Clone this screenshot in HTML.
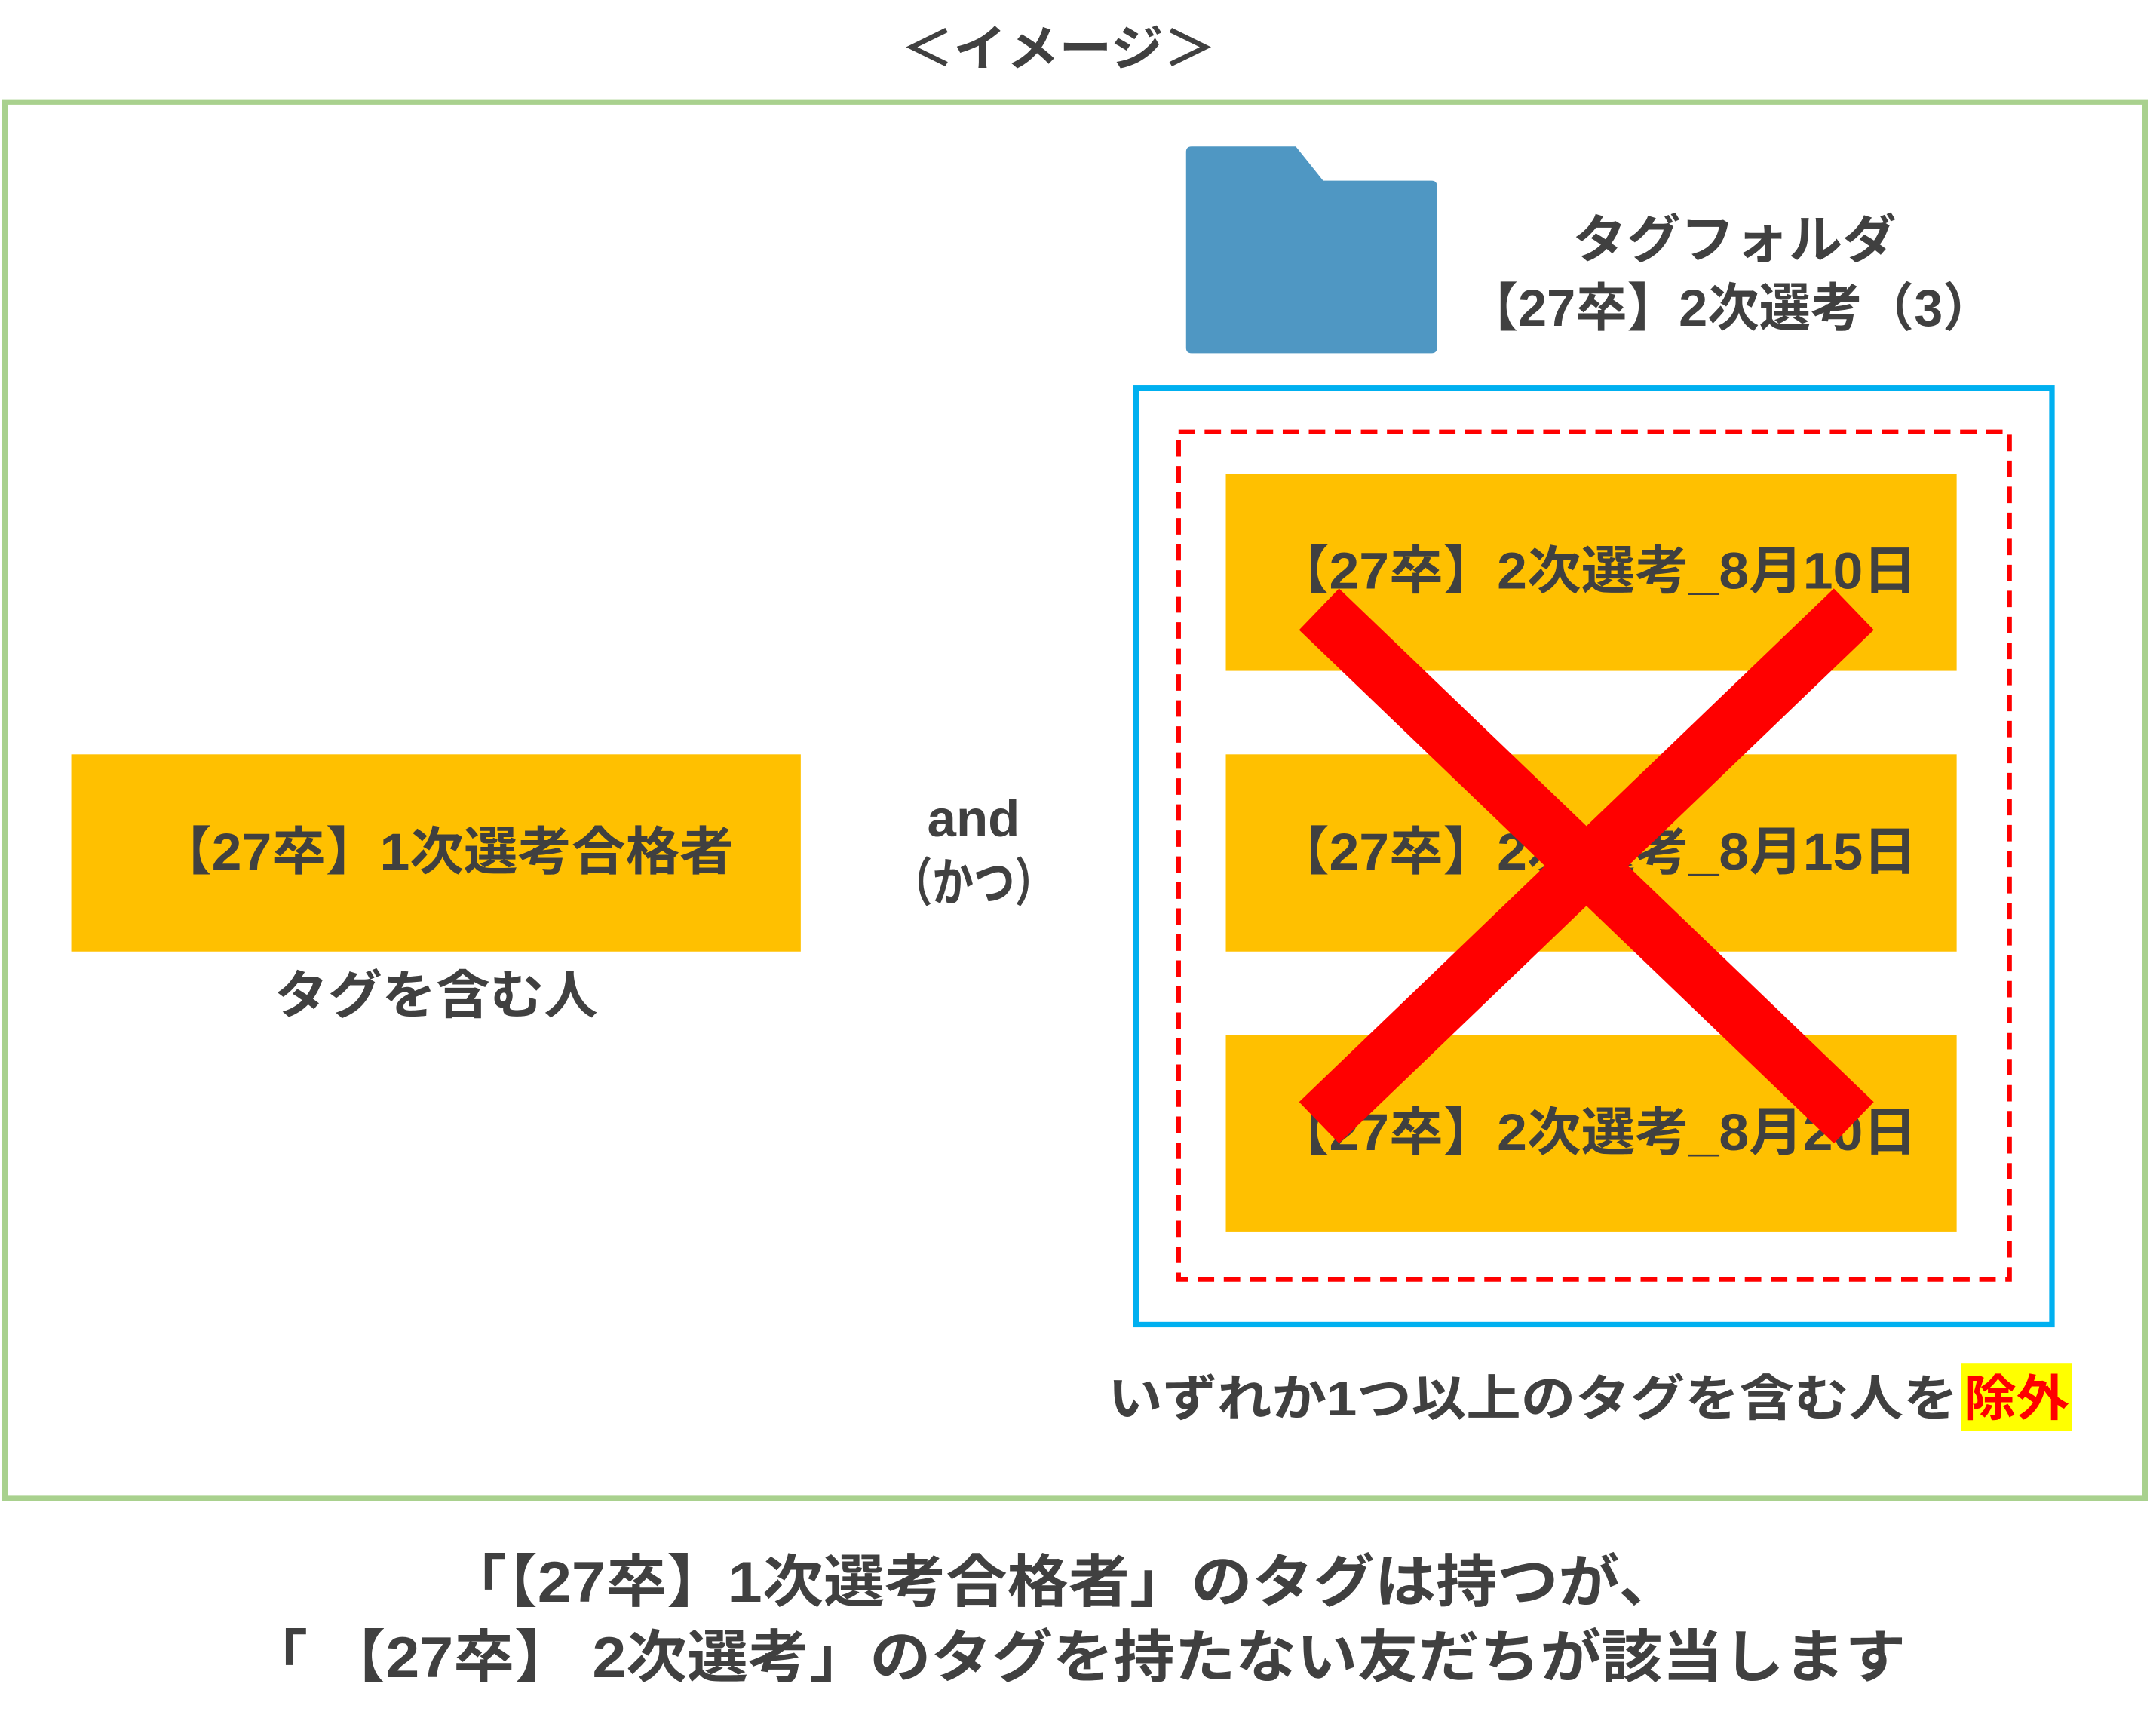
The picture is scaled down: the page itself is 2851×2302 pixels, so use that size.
<!DOCTYPE html>
<html><head><meta charset="utf-8"><style>
html,body{margin:0;padding:0;background:#fff;}
svg{display:block;}
text{font-family:"Liberation Sans","Noto Sans CJK JP",sans-serif;font-weight:bold;fill:#404040;}
</style></head><body>
<svg width="2851" height="2302" viewBox="0 0 1568 1268" preserveAspectRatio="none" xmlns="http://www.w3.org/2000/svg">
<rect x="0" y="0" width="1568" height="1268" fill="#fff"/>
<text x="772" y="48" font-size="36" text-anchor="middle" textLength="230" lengthAdjust="spacingAndGlyphs">＜イメージ＞</text>
<rect x="3.5" y="74.5" width="1561" height="1020" fill="none" stroke="#a9d18e" stroke-width="4"/>
<!-- folder -->
<path d="M869,107 L945,107 L965,132 L1044,132 Q1048,132 1048,136 L1048,254 Q1048,258 1044,258 L869,258 Q865,258 865,254 L865,111 Q865,107 869,107 Z" fill="#4f97c3"/>
<text x="1265" y="188" font-size="38" text-anchor="middle" textLength="236" lengthAdjust="spacingAndGlyphs">タグフォルダ</text>
<text x="1262" y="238" font-size="38" text-anchor="middle" textLength="385" lengthAdjust="spacingAndGlyphs">【27卒】2次選考（3）</text>
<!-- containers -->
<rect x="828.5" y="283.5" width="668" height="684" fill="none" stroke="#00b0f0" stroke-width="4"/>
<rect x="859.5" y="315.5" width="606" height="619" fill="none" stroke="#ff0000" stroke-width="3.5" stroke-dasharray="12,7"/>
<rect x="894" y="346" width="533" height="144" fill="#ffc000"/>
<rect x="894" y="551" width="533" height="144" fill="#ffc000"/>
<rect x="894" y="756" width="533" height="144" fill="#ffc000"/>
<text x="930" y="430" font-size="38" textLength="468" lengthAdjust="spacingAndGlyphs">【27卒】2次選考_8月10日</text>
<text x="930" y="635" font-size="38" textLength="468" lengthAdjust="spacingAndGlyphs">【27卒】2次選考_8月15日</text>
<text x="930" y="840" font-size="38" textLength="468" lengthAdjust="spacingAndGlyphs">【27卒】2次選考_8月20日</text>
<!-- X -->
<line x1="962" y1="445" x2="1352" y2="820" stroke="#ff0000" stroke-width="42"/>
<line x1="1352" y1="445" x2="962" y2="820" stroke="#ff0000" stroke-width="42"/>
<!-- left -->
<rect x="52" y="551" width="532" height="144" fill="#ffc000"/>
<text x="115" y="635" font-size="38" textLength="420" lengthAdjust="spacingAndGlyphs">【27卒】1次選考合格者</text>
<text x="318" y="740" font-size="38" text-anchor="middle" textLength="236" lengthAdjust="spacingAndGlyphs">タグを含む人</text>
<text x="710" y="611" font-size="38" text-anchor="middle">and</text>
<text x="710" y="658" font-size="38" text-anchor="middle" textLength="120" lengthAdjust="spacingAndGlyphs">（かつ）</text>
<!-- exclude -->
<rect x="1430" y="996" width="81" height="49" fill="#ffff00"/>
<text x="808" y="1034" font-size="36" textLength="620" lengthAdjust="spacingAndGlyphs">いずれか1つ以上のタグを含む人を</text>
<text x="1432" y="1034" font-size="36" textLength="77" lengthAdjust="spacingAndGlyphs" style="fill:#ff0000">除外</text>
<!-- bottom -->
<text x="325" y="1170" font-size="42" textLength="900" lengthAdjust="spacingAndGlyphs">「【27卒】1次選考合格者」のタグは持つが、</text>
<text x="180" y="1225" font-size="42" textLength="1210" lengthAdjust="spacingAndGlyphs">「 【27卒】 2次選考」のタグを持たない友だちが該当します</text>
</svg>
</body></html>
